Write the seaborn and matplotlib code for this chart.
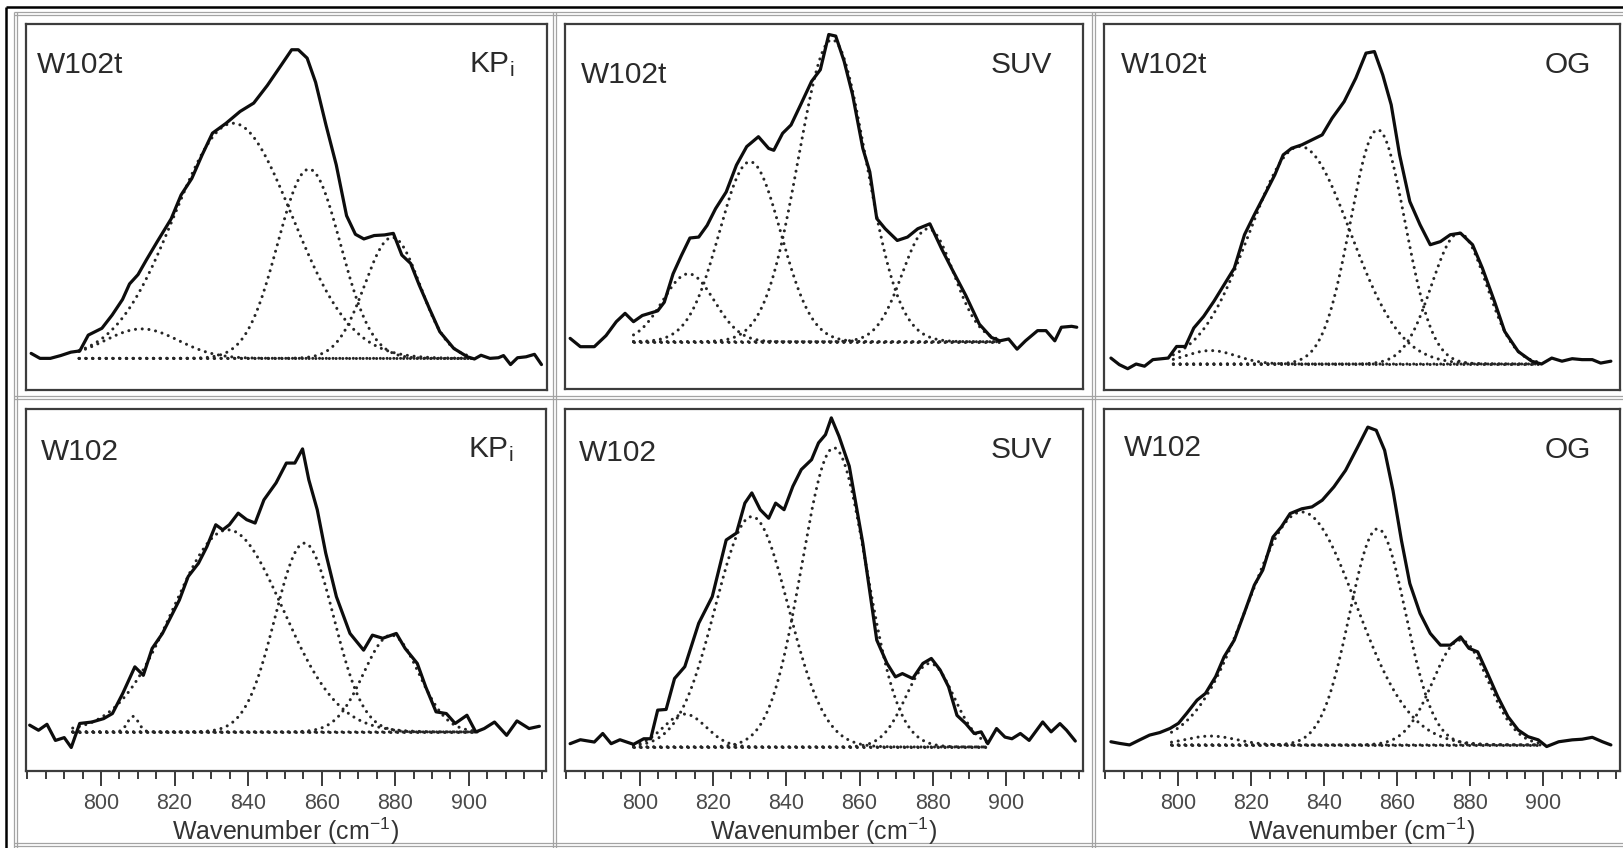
import numpy as np
import matplotlib
matplotlib.use("Agg")
import matplotlib.pyplot as plt
import seaborn as sns
from matplotlib.ticker import MultipleLocator

sns.set_theme(style="white")
plt.rcParams["font.family"] = ["Liberation Sans", "DejaVu Sans"]
plt.rcParams["mathtext.fontset"] = "custom"
plt.rcParams["mathtext.rm"] = "Liberation Sans"
plt.rcParams["mathtext.it"] = "Liberation Sans:italic"

# ---------------------------------------------------------------- data
# Measured Raman spectra (wavenumber in cm^-1, normalised intensity)
TL_WN = [781, 783.4, 786.2, 789, 791.8, 794.2, 796.5, 800.2, 803, 805.8, 807.7, 810, 812.4,
         815.2, 819, 821.7, 824.6, 827.4, 830.2, 833.9, 837.7, 841.4, 845.1, 848.9, 851.7,
         853.5, 855.9, 858.2, 861, 863.8, 866.6, 869, 871.3, 874.1, 876.9, 879.3, 881.6, 884,
         886.3, 889.1, 891.9, 895.7, 899.4, 901.3, 903.1, 905.5, 907.8, 909.2, 911.1, 913,
         915.3, 917.6, 919.5]
TL_INT = [0.016, 0.0, 0.0, 0.009, 0.02, 0.024, 0.075, 0.097, 0.14, 0.19, 0.24, 0.27, 0.32,
          0.376, 0.45, 0.527, 0.58, 0.656, 0.726, 0.758, 0.796, 0.823, 0.88, 0.946, 0.995,
          0.995, 0.968, 0.89, 0.753, 0.624, 0.46, 0.40, 0.385, 0.396, 0.398, 0.403, 0.333,
          0.306, 0.237, 0.16, 0.086, 0.032, 0.005, -0.002, 0.01, 0.0, 0.002, 0.009, -0.02,
          0.002, 0.005, 0.013, -0.02]

TM_WN = [781, 783.8, 787.6, 790.8, 793.6, 796, 798.3, 800.7, 804.9, 806.7, 809.1, 811.4,
         813.7, 816.1, 818.4, 820.7, 823.6, 826.4, 829.2, 832.4, 835.2, 836.6, 839, 841.3,
         844.1, 846.9, 849.3, 851.6, 853.5, 855.8, 858.1, 860.9, 862.8, 864.7, 867, 870.3,
         873.1, 875.9, 879.2, 882.4, 885.2, 889, 892.7, 896, 898.3, 900.7, 903, 905.3, 908.6,
         910.9, 913.3, 915.1, 917.9, 919.3]
TM_INT = [0.011, -0.016, -0.016, 0.02, 0.065, 0.092, 0.065, 0.085, 0.10, 0.128, 0.22, 0.28,
          0.336, 0.339, 0.377, 0.431, 0.485, 0.572, 0.632, 0.664, 0.626, 0.62, 0.675, 0.702,
          0.772, 0.843, 0.881, 0.995, 0.99, 0.908, 0.80, 0.626, 0.55, 0.399, 0.366, 0.328,
          0.339, 0.366, 0.382, 0.301, 0.236, 0.15, 0.057, 0.014, 0.003, 0.009, -0.024, 0.003,
          0.036, 0.036, 0.003, 0.047, 0.05, 0.047]

TR_WN = [781.5, 783.8, 786.1, 788.4, 790.7, 793, 797.2, 799.5, 801.9, 804.2, 806.9, 809.7,
         812.5, 815.3, 818.1, 820.8, 823.6, 826.4, 828.7, 831, 833.8, 836.6, 839.4, 842.1,
         845.4, 848.6, 851.4, 853.7, 856, 858.3, 860.6, 863.4, 866.2, 869, 871.8, 874.5,
         877.3, 880.6, 883.3, 886.6, 889.4, 893.1, 896.8, 899.5, 902.3, 905.1, 907.9, 910.6,
         913.4, 915.7, 918.5]
TR_INT = [0.019, -0.002, -0.015, 0.0, -0.007, 0.014, 0.019, 0.056, 0.056, 0.115, 0.152, 0.20,
          0.253, 0.306, 0.413, 0.477, 0.54, 0.604, 0.668, 0.689, 0.70, 0.716, 0.732, 0.785,
          0.838, 0.913, 0.993, 0.998, 0.923, 0.828, 0.668, 0.519, 0.445, 0.381, 0.391, 0.413,
          0.418, 0.381, 0.306, 0.20, 0.104, 0.04, 0.009, 0.0, 0.019, 0.009, 0.017, 0.014,
          0.014, 0.003, 0.009]

BL_WN = [780.6, 783, 785.3, 787.6, 790, 791.9, 794.2, 797.5, 800.7, 803.1, 805.9, 809.2,
         811.5, 813.9, 816.7, 819, 821.3, 823.7, 826.5, 828.8, 831.2, 833.1, 834.9, 837.3,
         839.6, 841.9, 844.3, 847.6, 850.4, 852.7, 854.8, 856.5, 858.8, 861.1, 864, 867.7,
         871.4, 873.8, 876.6, 880.3, 882.7, 886, 888.3, 891.1, 893.9, 896.3, 899.5, 901.9,
         904.2, 907, 910.3, 913.1, 916.4, 919.2]
BL_INT = [0.024, 0.006, 0.027, -0.03, -0.02, -0.055, 0.03, 0.035, 0.047, 0.065, 0.136, 0.23,
          0.20, 0.295, 0.348, 0.407, 0.466, 0.549, 0.596, 0.655, 0.732, 0.714, 0.732, 0.773,
          0.75, 0.738, 0.82, 0.88, 0.95, 0.95, 1.0, 0.891, 0.785, 0.632, 0.478, 0.348, 0.289,
          0.342, 0.331, 0.348, 0.295, 0.242, 0.159, 0.071, 0.065, 0.03, 0.059, 0.0, 0.012,
          0.035, -0.012, 0.039, 0.012, 0.02]

BM_WN = [781, 783.8, 787.6, 789.9, 792.2, 794.6, 798.3, 801.1, 803, 804.9, 807.2, 809.5,
         812.3, 816.1, 819.8, 823.6, 826.4, 828.7, 830.6, 832.9, 835.2, 837.1, 839.4, 841.8,
         844.1, 846.9, 848.8, 850.7, 852.3, 854.4, 857.2, 860.9, 864.7, 867.5, 869.8, 871.7,
         874.5, 877.3, 879.6, 882, 884.3, 886.6, 889, 891.3, 893.2, 895, 897.4, 899.7, 901.6,
         903.9, 906.3, 910, 912.3, 914.7, 916.5, 918.9]
BM_INT = [0.01, 0.022, 0.015, 0.041, 0.01, 0.022, 0.008, 0.025, 0.025, 0.112, 0.114, 0.208,
          0.244, 0.376, 0.457, 0.629, 0.65, 0.741, 0.772, 0.721, 0.695, 0.741, 0.721, 0.792,
          0.843, 0.873, 0.924, 0.949, 1.0, 0.944, 0.853, 0.619, 0.325, 0.254, 0.213, 0.223,
          0.208, 0.254, 0.269, 0.234, 0.183, 0.096, 0.071, 0.041, 0.046, 0.01, 0.056, 0.03,
          0.025, 0.041, 0.02, 0.076, 0.046, 0.071, 0.051, 0.018]

BR_WN = [781.5, 783.8, 786.6, 789.4, 792.1, 794.9, 797.7, 800, 802.3, 805.1, 807.4, 810.2,
         812.5, 815.3, 818, 820.8, 823.1, 825.9, 828.2, 830.6, 833.8, 836.6, 839.4, 842.6,
         845.8, 849.1, 851.9, 854.2, 856.5, 858.8, 861.1, 863.4, 866.2, 869, 871.8, 874.5,
         877.3, 879.6, 882, 884.7, 887.5, 890.3, 893.1, 895.8, 898.6, 900.9, 904.2, 907.9,
         910.6, 913.4, 916.2, 918.5]
BR_INT = [0.01, 0.005, 0.0, 0.016, 0.031, 0.039, 0.052, 0.068, 0.10, 0.141, 0.162, 0.215,
          0.277, 0.33, 0.414, 0.503, 0.55, 0.654, 0.686, 0.728, 0.743, 0.749, 0.77, 0.812,
          0.864, 0.937, 1.0, 0.99, 0.927, 0.80, 0.644, 0.508, 0.414, 0.351, 0.314, 0.314,
          0.34, 0.304, 0.293, 0.225, 0.152, 0.089, 0.047, 0.026, 0.016, -0.005, 0.01, 0.016,
          0.018, 0.024, 0.01, 0.0]

# Fitted Gaussian bands: centre (cm^-1), height, sigma (cm^-1); fit window
TL_CENTER = [811.0, 835.8, 856.4, 879.0]
TL_HEIGHT = [0.095, 0.758, 0.61, 0.39]
TL_SIGMA = [10.0, 16.0, 8.5, 7.5]
TL_RANGE = [794.0, 900.5]

TM_CENTER = [813.3, 830.1, 852.5, 878.7]
TM_HEIGHT = [0.22, 0.583, 0.978, 0.366]
TM_SIGMA = [7.0, 8.4, 9.2, 7.0]
TM_RANGE = [798.3, 898.3]

TR_CENTER = [808.8, 833.3, 854.6, 876.9]
TR_HEIGHT = [0.043, 0.695, 0.748, 0.418]
TR_SIGMA = [7.0, 13.8, 7.5, 7.5]
TR_RANGE = [798.6, 898.6]

BL_CENTER = [808.7, 834.5, 855.3, 878.9]
BL_HEIGHT = [0.055, 0.714, 0.667, 0.342]
BL_SIGMA = [1.5, 15.0, 8.0, 7.5]
BL_RANGE = [792.3, 902.3]

BM_CENTER = [812.3, 830.6, 853.0, 879.2]
BM_HEIGHT = [0.10, 0.70, 0.909, 0.254]
BM_SIGMA = [5.8, 10.0, 8.8, 6.5]
BM_RANGE = [798.3, 895.0]

BR_CENTER = [808.8, 833.8, 854.6, 877.3]
BR_HEIGHT = [0.028, 0.733, 0.68, 0.33]
BR_SIGMA = [7.0, 14.8, 7.7, 7.6]
BR_RANGE = [798.1, 899.1]

SAMPLES = ["W102t", "W102t", "W102t", "W102", "W102", "W102"]
MEDIA = ["KP$_\\mathregular{i}$", "SUV", "OG", "KP$_\\mathregular{i}$", "SUV", "OG"]
MAJOR_TICKS = [800, 820, 840, 860, 880, 900]
XLABEL = "Wavenumber (cm$^{-1}$)"

# ---------------------------------------------------------------- layout
W, H = 1623, 848
# panel boxes in pixels: x0, y0, x1, y1
BOXES = [(26, 24, 547, 390), (565, 24, 1083, 389), (1104, 24, 1620, 390),
         (26, 409, 546, 771), (565, 409, 1083, 771), (1104, 409, 1620, 771)]
YLIMS = [(-0.102, 1.078), (-0.153, 1.029), (-0.083, 1.086),
         (-0.138, 1.141), (-0.073, 1.027), (-0.082, 1.057)]
# label anchor points in axes fraction: (left label x, y), (right label x, y)
LEFT_POS = [(0.021, 0.888), (0.031, 0.86), (0.033, 0.888),
            (0.028, 0.882), (0.027, 0.878), (0.039, 0.892)]
RIGHT_POS = [(0.937, 0.888), (0.941, 0.888), (0.944, 0.888),
             (0.937, 0.887), (0.941, 0.887), (0.944, 0.887)]
XLIM = (779.6, 921.0)

spectra = [(TL_WN, TL_INT), (TM_WN, TM_INT), (TR_WN, TR_INT),
           (BL_WN, BL_INT), (BM_WN, BM_INT), (BR_WN, BR_INT)]
bands = [(TL_CENTER, TL_HEIGHT, TL_SIGMA, TL_RANGE),
         (TM_CENTER, TM_HEIGHT, TM_SIGMA, TM_RANGE),
         (TR_CENTER, TR_HEIGHT, TR_SIGMA, TR_RANGE),
         (BL_CENTER, BL_HEIGHT, BL_SIGMA, BL_RANGE),
         (BM_CENTER, BM_HEIGHT, BM_SIGMA, BM_RANGE),
         (BR_CENTER, BR_HEIGHT, BR_SIGMA, BR_RANGE)]

fig = plt.figure(figsize=(W / 100, H / 100), dpi=100)
fig.patch.set_facecolor("white")

# page frame and cell dividers, drawn in pixel coordinates
bg = fig.add_axes([0, 0, 1, 1], zorder=-5)
bg.set_xlim(0, W)
bg.set_ylim(H, 0)
bg.axis("off")
grey = "#a3a3a3"
for x in (14, 553, 1092):
    for dx in (0, 3):
        bg.plot([x + dx, x + dx], [12, H], color=grey, lw=0.9, solid_capstyle="butt")
for y in (12, 396, 843):
    for dy in (0, 3):
        bg.plot([14, W], [y + dy, y + dy], color=grey, lw=0.9, solid_capstyle="butt")
bg.plot([6, 6], [7, H], color="black", lw=1.8, solid_capstyle="butt")
bg.plot([6, W], [7, 7], color="black", lw=1.8, solid_capstyle="butt")

DOT = (0, (0.01, 2.2))
dot_color = "#262626"
DOT_LW = 2.2

for i in range(6):
    x0, y0, x1, y1 = BOXES[i]
    ax = fig.add_axes([x0 / W, 1 - y1 / H, (x1 - x0) / W, (y1 - y0) / H])
    ax.set_facecolor("white")

    centers, heights, sigmas, rng = bands[i]
    xs = np.linspace(rng[0], rng[1], 500)
    # fit baseline
    sns.lineplot(x=[rng[0], rng[1]], y=[0.0, 0.0], ax=ax, color=dot_color, lw=DOT_LW,
                 linestyle=DOT, dash_capstyle="round")
    # individual Gaussian bands
    for c, h, s in zip(centers, heights, sigmas):
        sns.lineplot(x=xs, y=h * np.exp(-(xs - c) ** 2 / (2 * s ** 2)), ax=ax,
                     color=dot_color, lw=DOT_LW, linestyle=DOT, dash_capstyle="round")
    # measured spectrum
    wn, inten = spectra[i]
    sns.lineplot(x=wn, y=inten, ax=ax, color="#0d0d0d", lw=2.3,
                 solid_joinstyle="round", solid_capstyle="round")

    ax.set_xlim(*XLIM)
    ax.set_ylim(*YLIMS[i])
    ax.set_xlabel("")
    ax.set_ylabel("")
    ax.set_yticks([])
    for sp in ax.spines.values():
        sp.set_visible(True)
        sp.set_color("#3c3c3c")
        sp.set_linewidth(1.6)

    if i >= 3:
        ax.set_xticks(MAJOR_TICKS)
        ax.xaxis.set_minor_locator(MultipleLocator(5))
        ax.tick_params(axis="x", which="major", direction="out", length=11, width=1.4,
                       color="#3a3a3a", labelsize=15.5, labelcolor="#4a4a4a", pad=5,
                       bottom=True)
        ax.tick_params(axis="x", which="minor", direction="out", length=6, width=1.4,
                       color="#3a3a3a", bottom=True)
        ax.text(0.5, -0.19, XLABEL, transform=ax.transAxes, ha="center", va="baseline",
                fontsize=18, color="#333333")
    else:
        ax.set_xticks([])

    lx, ly = LEFT_POS[i]
    rx, ry = RIGHT_POS[i]
    ax.text(lx, ly, SAMPLES[i], transform=ax.transAxes, ha="left", va="center",
            fontsize=21.5, color="#2a2a2a")
    ax.text(rx, ry, MEDIA[i], transform=ax.transAxes, ha="right", va="center",
            fontsize=21.5, color="#2a2a2a")

fig.savefig("out.png", dpi=100, facecolor="white")
